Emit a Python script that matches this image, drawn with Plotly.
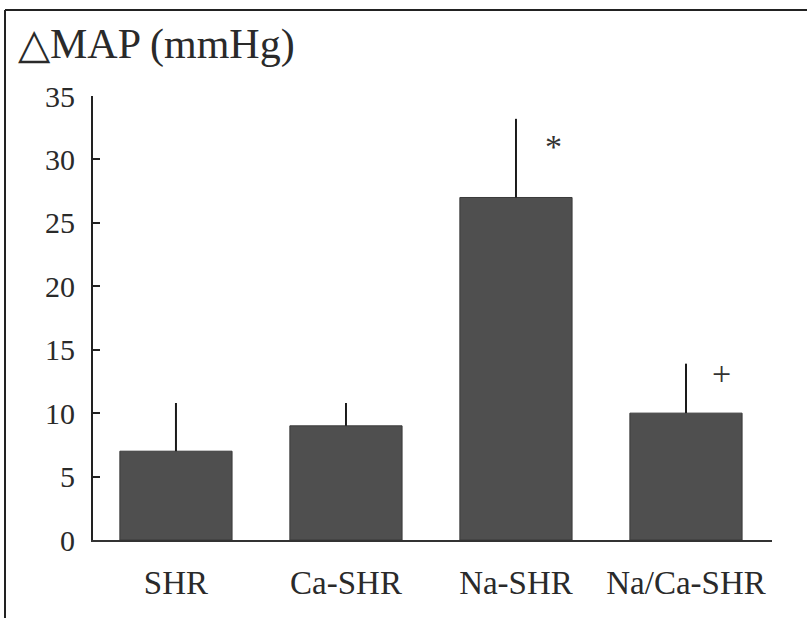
import plotly.graph_objects as go

categories = ["SHR", "Ca-SHR", "Na-SHR", "Na/Ca-SHR"]
values = [7.0, 9.0, 27.0, 10.0]
errors_up = [3.8, 1.8, 6.2, 3.9]
y_ticks = [0, 5, 10, 15, 20, 25, 30, 35]
marks = [("*", 2.22, 31.0), ("+", 3.21, 13.1)]

# pixel geometry helpers (layout only)
W, H = 807, 618
L, R, T, B = 93, 35, 96, 78
pw, ph = W - L - R, H - T - B

def px_to_paper_x(px):
    return (px - L) / pw

def px_to_paper_y(py):
    return (H - B - py) / ph

font_family = "Liberation Serif, Times New Roman, serif"

fig = go.Figure()
fig.add_trace(go.Bar(
    x=list(range(len(categories))),
    y=values,
    width=0.66,
    marker=dict(color="#4f4f4f", line=dict(color="#3a3a3a", width=1)),
    error_y=dict(type="data", array=errors_up, arrayminus=[0] * len(values),
                 symmetric=False, width=0, thickness=2, color="#1a1a1a"),
    showlegend=False,
    hoverinfo="skip",
))

for txt, xv, yv in marks:
    fig.add_annotation(x=xv, y=yv, text=txt, showarrow=False,
                       font=dict(family=font_family, size=34, color="#333333"))

fig.add_annotation(xref="paper", yref="paper",
                   x=px_to_paper_x(16), y=px_to_paper_y(44),
                   xanchor="left", yanchor="middle", showarrow=False,
                   text="△MAP (mmHg)",
                   font=dict(family=font_family, size=42, color="#2a2a2a"))

# scanned frame: top and left border lines
fig.add_shape(type="line", xref="paper", yref="paper",
              x0=px_to_paper_x(5), x1=px_to_paper_x(W + 5),
              y0=px_to_paper_y(10), y1=px_to_paper_y(10),
              line=dict(color="#222222", width=2))
fig.add_shape(type="line", xref="paper", yref="paper",
              x0=px_to_paper_x(5), x1=px_to_paper_x(5),
              y0=px_to_paper_y(10), y1=px_to_paper_y(H + 5),
              line=dict(color="#222222", width=2))

fig.update_layout(
    width=W, height=H,
    margin=dict(l=L, r=R, t=T, b=B, pad=0),
    paper_bgcolor="white", plot_bgcolor="white",
    font=dict(family=font_family, color="#2a2a2a"),
    bargap=0.34,
)
fig.update_xaxes(
    range=[-0.488, 3.506],
    tickmode="array", tickvals=list(range(len(categories))), ticktext=categories,
    showline=True, linecolor="#333333", linewidth=2,
    ticks="", showgrid=False, zeroline=False,
    tickfont=dict(family=font_family, size=33, color="#2a2a2a"),
    ticklabelstandoff=12,
)
fig.update_yaxes(
    range=[0, 35],
    tickmode="array", tickvals=y_ticks,
    showline=True, linecolor="#222222", linewidth=2,
    ticks="inside", ticklen=7, tickwidth=2, tickcolor="#222222",
    showgrid=False, zeroline=False,
    tickfont=dict(family=font_family, size=30, color="#2a2a2a"),
    ticklabelstandoff=10,
)

fig.write_html("out.html",
               config={"displayModeBar": False, "staticPlot": True},
               post_script="document.body.style.margin='0';document.body.style.overflow='hidden';")
